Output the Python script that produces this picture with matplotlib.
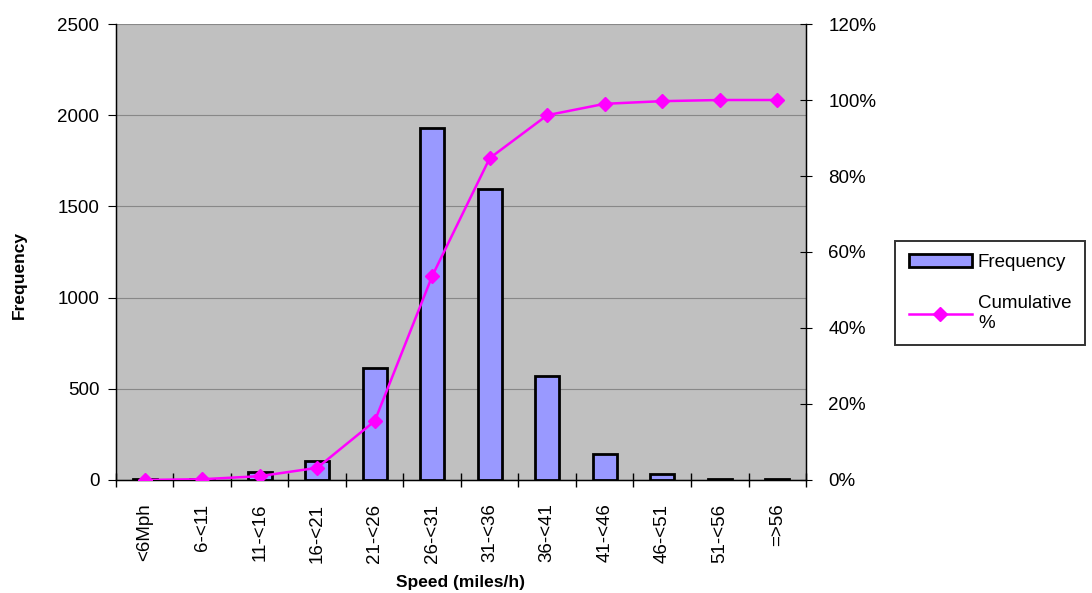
import matplotlib.pyplot as plt
from matplotlib.patches import Patch
from matplotlib.lines import Line2D
from matplotlib.ticker import FuncFormatter

plt.rcParams['font.family'] = ['Liberation Sans', 'DejaVu Sans']

# data
speed_bins = ['<6Mph', '6-<11', '11-<16', '16-<21', '21-<26', '26-<31',
              '31-<36', '36-<41', '41-<46', '46-<51', '51-<56', '=>56']
frequency = [3, 5, 45, 105, 615, 1930, 1595, 570, 140, 35, 5, 5]
cumulative = [0.0, 0.2, 1.0, 3.2, 15.5, 53.7, 84.7, 96.0, 99.0, 99.7, 100.0, 100.0]

fig = plt.figure(figsize=(10.92, 5.93), dpi=100)
ax = fig.add_axes([0.1062, 0.1906, 0.6319, 0.7689])
ax.set_facecolor('#c0c0c0')

x = list(range(len(speed_bins)))
ax.bar(x, frequency, width=0.42, color='#9999ff', edgecolor='black', linewidth=2, zorder=3)
ax.set_xlim(-0.5, len(speed_bins) - 0.5)
ax.set_ylim(0, 2500)
ax.set_yticks(range(0, 2501, 500))
ax.yaxis.grid(True, color='#888888', linewidth=0.8, zorder=0)
ax.set_axisbelow(True)

ax.set_xticks(x)
ax.set_xticklabels(speed_bins, rotation=90, fontsize=13.5)
ax.tick_params(axis='x', length=0, pad=17)
ax.set_xticks([i - 0.5 for i in range(len(speed_bins) + 1)], minor=True)
ax.tick_params(axis='x', which='minor', direction='inout', length=10, width=1)
ax.tick_params(axis='y', direction='out', length=6, labelsize=13.5, pad=6)
ax.spines['top'].set_visible(False)
for s in ['left', 'bottom', 'right']:
    ax.spines[s].set_linewidth(1)

ax.set_ylabel('Frequency', fontsize=12.5, fontweight='bold')
ax.yaxis.set_label_coords(-0.129, 0.45)
ax.set_xlabel('Speed (miles/h)', fontsize=12.5, fontweight='bold')
ax.xaxis.set_label_coords(0.5, -0.208)

ax2 = ax.twinx()
ax2.plot(x, cumulative, color='#ff00ff', linewidth=1.8, marker='D', markersize=7, zorder=4)
ax2.set_ylim(0, 120)
ax2.set_yticks(range(0, 121, 20))
ax2.yaxis.set_major_formatter(FuncFormatter(lambda v, p: '%d%%' % v))
ax2.tick_params(axis='y', direction='inout', length=8, labelsize=13.5, pad=12)
ax2.spines['top'].set_visible(False)

handles = [Patch(facecolor='#9999ff', edgecolor='black', linewidth=2),
           Line2D([], [], color='#ff00ff', linewidth=1.8, marker='D', markersize=7)]
leg = fig.legend(handles, ['Frequency', 'Cumulative\n%'], loc='upper left',
                 bbox_to_anchor=(0.82, 0.594), borderaxespad=0, fontsize=13.5,
                 frameon=True, fancybox=False, edgecolor='black', handlelength=3.4,
                 handletextpad=0.3, labelspacing=1.3, borderpad=0.7)
leg.get_frame().set_linewidth(1.4)

fig.savefig('out.png', dpi=100)
